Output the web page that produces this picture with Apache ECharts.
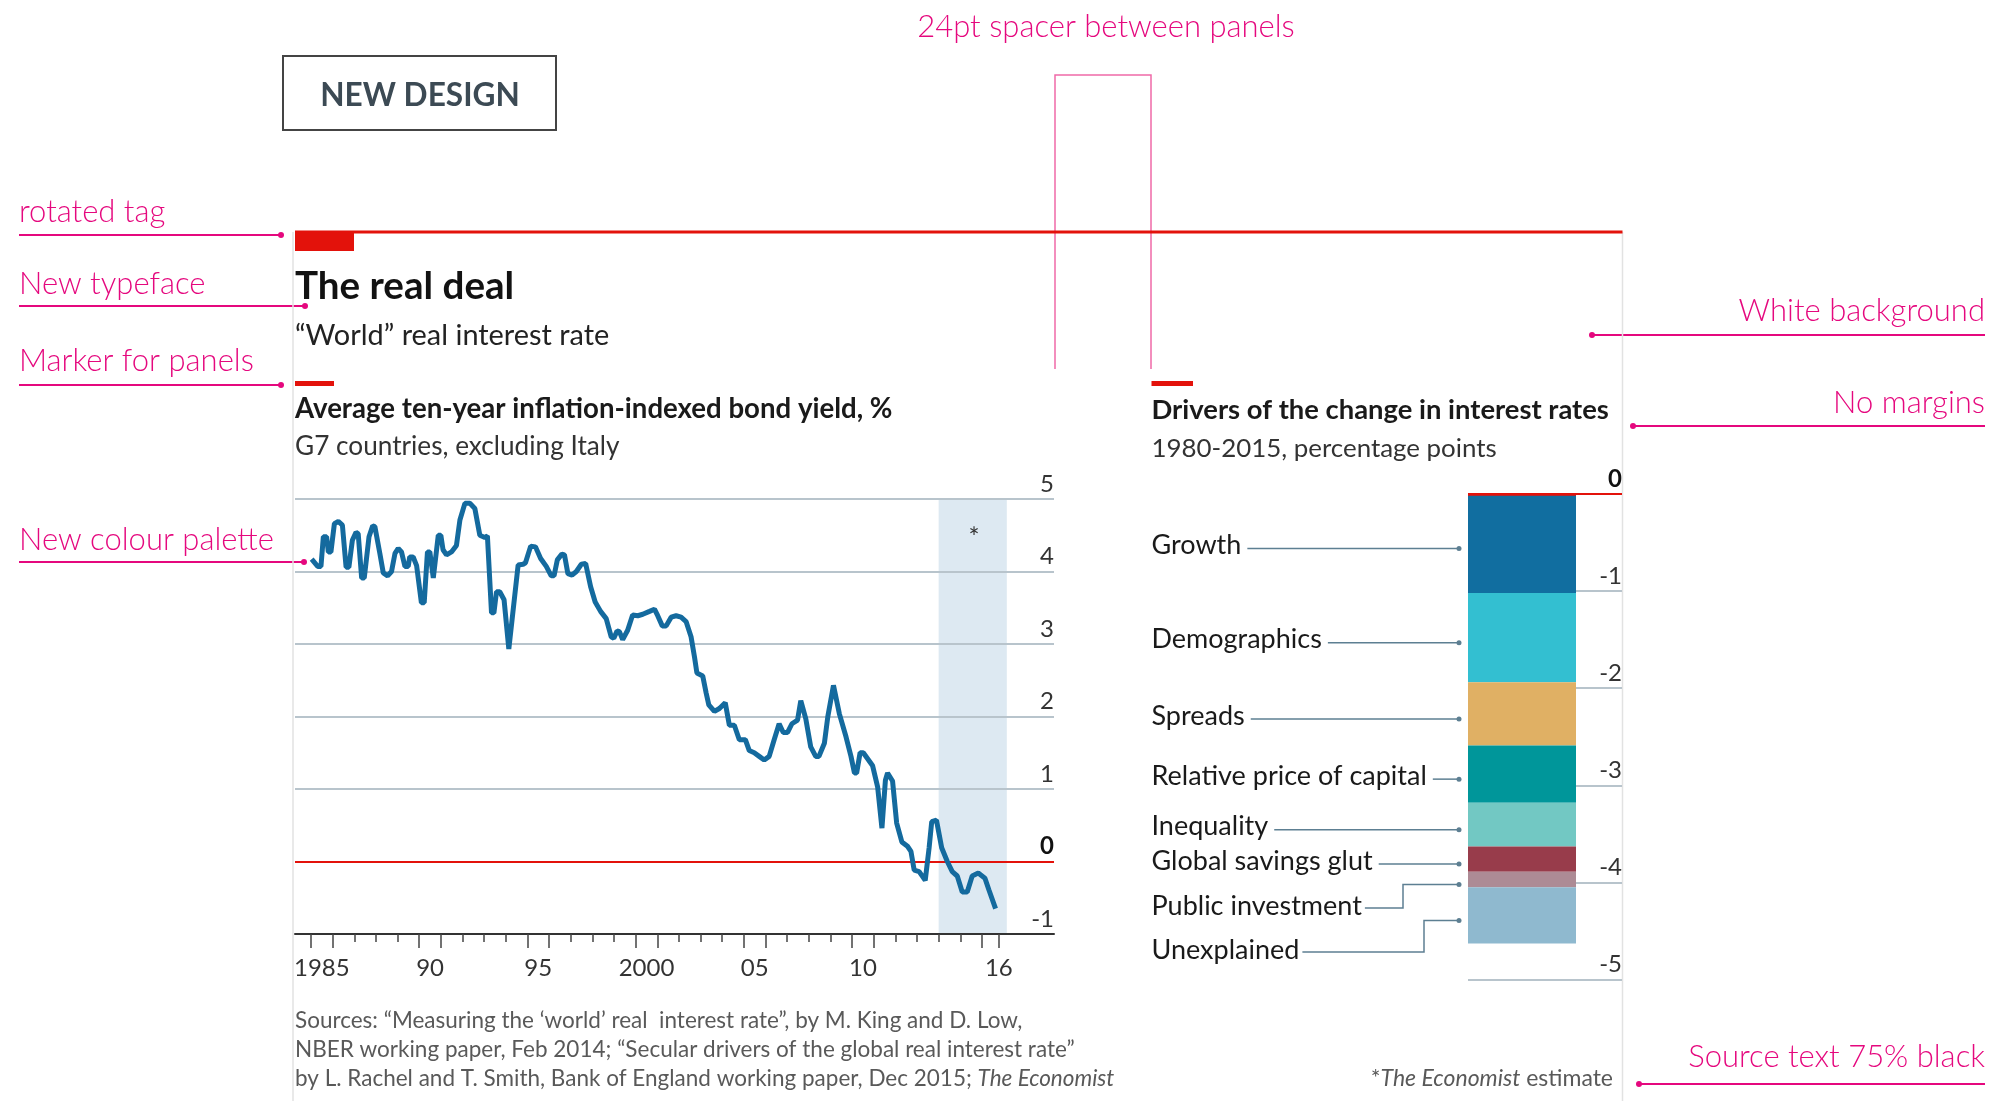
<!DOCTYPE html>
<html>
<head>
<meta charset="utf-8">
<title>The real deal</title>
<script src="https://cdn.jsdelivr.net/npm/echarts@6/dist/echarts.min.js"></script>
<style>
    html, body { margin: 0; padding: 0; background: #fff; }
    #chart { width: 1995px; height: 1101px; }
</style>
</head>
<body>
<div id="chart"></div>
<script>
// "World" real interest rate, % (decimal years)
const rateYears = [
    1985.03, 1985.31, 1985.46, 1985.57, 1985.72, 1985.80, 1985.92, 1986.08, 1986.26, 1986.45,
    1986.62, 1986.75, 1986.91, 1987.08, 1987.18, 1987.34, 1987.46, 1987.68, 1987.85, 1987.95,
    1988.18, 1988.34, 1988.54, 1988.72, 1988.88, 1989.03, 1989.18, 1989.34, 1989.49, 1989.56,
    1989.72, 1989.88, 1990.10, 1990.23, 1990.38, 1990.49, 1990.65, 1990.72, 1990.88, 1991.00,
    1991.10, 1991.26, 1991.49, 1991.72, 1991.88, 1992.11, 1992.34, 1992.57, 1992.80, 1993.03,
    1993.15, 1993.34, 1993.45, 1993.57, 1993.72, 1993.92, 1994.14, 1994.23, 1994.57, 1994.80,
    1994.91, 1995.15, 1995.37, 1995.61, 1995.87, 1996.10, 1996.23, 1996.38, 1996.59, 1996.71,
    1996.87, 1997.06, 1997.26, 1997.49, 1997.69, 1997.92, 1998.13, 1998.38, 1998.64, 1998.87,
    1998.99, 1999.14, 1999.25, 1999.40, 1999.63, 1999.86, 2000.10, 2000.33, 2000.64, 2000.87,
    2001.02, 2001.23, 2001.41, 2001.64, 2001.87, 2002.10, 2002.33, 2002.56, 2002.72, 2002.83,
    2003.10, 2003.26, 2003.38, 2003.64, 2003.87, 2004.14, 2004.33, 2004.56, 2004.79, 2005.07,
    2005.25, 2005.48, 2005.71, 2005.94, 2006.17, 2006.40, 2006.63, 2006.82, 2007.02, 2007.22,
    2007.48, 2007.63, 2007.86, 2008.09, 2008.32, 2008.47, 2008.72, 2008.88, 2009.14, 2009.41,
    2009.72, 2009.95, 2010.11, 2010.21, 2010.37, 2010.52, 2010.76, 2010.95, 2011.18, 2011.38,
    2011.54, 2011.64, 2011.87, 2012.06, 2012.30, 2012.56, 2012.72, 2012.87, 2013.10, 2013.38,
    2013.56, 2013.68, 2013.90, 2014.14, 2014.40, 2014.63, 2014.86, 2015.09, 2015.32, 2015.55,
    2015.83, 2016.14, 2016.32, 2016.63
]
const rateValues = [
    4.17, 4.07, 4.07, 4.48, 4.48, 4.27, 4.27, 4.66, 4.69, 4.64,
    4.06, 4.06, 4.43, 4.54, 4.52, 3.91, 3.91, 4.48, 4.63, 4.62,
    4.25, 3.98, 3.94, 4.00, 4.25, 4.32, 4.27, 4.07, 4.07, 4.20,
    4.20, 4.08, 3.57, 3.57, 4.27, 4.27, 3.91, 3.91, 4.50, 4.50,
    4.30, 4.23, 4.27, 4.36, 4.71, 4.94, 4.94, 4.87, 4.50, 4.47,
    4.49, 3.43, 3.43, 3.72, 3.72, 3.61, 2.93, 2.93, 4.09, 4.10,
    4.12, 4.35, 4.34, 4.18, 4.07, 3.94, 3.94, 4.16, 4.24, 4.23,
    3.97, 3.95, 4.00, 4.10, 4.11, 3.79, 3.58, 3.45, 3.35, 3.10,
    3.08, 3.18, 3.17, 3.06, 3.19, 3.40, 3.39, 3.41, 3.45, 3.48,
    3.39, 3.25, 3.25, 3.37, 3.39, 3.37, 3.31, 3.10, 2.82, 2.60,
    2.56, 2.32, 2.16, 2.07, 2.11, 2.19, 1.88, 1.88, 1.68, 1.68,
    1.53, 1.50, 1.45, 1.40, 1.45, 1.68, 1.90, 1.78, 1.78, 1.90,
    1.95, 2.22, 1.97, 1.58, 1.45, 1.45, 1.63, 2.00, 2.43, 2.04,
    1.72, 1.45, 1.22, 1.22, 1.50, 1.50, 1.40, 1.32, 1.03, 0.46,
    1.12, 1.22, 1.11, 0.53, 0.27, 0.21, 0.14, -0.12, -0.14, -0.26,
    0.19, 0.55, 0.57, 0.19, 0.00, -0.14, -0.20, -0.42, -0.42, -0.20,
    -0.16, -0.23, -0.39, -0.65
]
const estimatePeriod = [2014, 2017.15]
const yearRange = [1984.26, 2019.33]
const yearLabelAt = [1985.5, 1990.5, 1995.5, 2000.5, 2005.5, 2010.5, 2016.78]
const yearLabels = ['1985', '90', '95', '2000', '05', '10', '16']
const lastTick = 2016.8

// Drivers of the change in interest rates, 1980-2015, percentage points
const drivers = ['Growth', 'Demographics', 'Spreads', 'Relative price of capital',
    'Inequality', 'Global savings glut', 'Public investment', 'Unexplained']
const driverValues = [-1.02, -0.92, -0.65, -0.59, -0.45, -0.26, -0.16, -0.58]

const driverColors = ['#116ea0', '#33bfd1', '#e0b064', '#00969a', '#72c8c3', '#983c4b', '#ad8b95', '#8fb9cf']
const FONT = 'Lato, "Noto Sans", sans-serif'
const RED = '#e3120b'
const PINK = '#e5087e'
const GRID = '#b8c4cc'
const LINE_BLUE = '#146a9e'

let yearTicks = []
for (let y = 1985; y <= 2016; y++) yearTicks.push(y)
yearTicks.push(lastTick)
const longTicks = [1985, 1986, 1990, 1991, 1995, 1996, 2000, 2001, 2005, 2006, 2010, 2011, 2016, lastTick]

const chart = echarts.init(document.getElementById('chart'))

function text(str, x, y, size, extra) {
    return {
        type: 'text', x: x, y: y, silent: true,
        style: Object.assign({
            text: str, fontFamily: FONT, fontSize: size, fill: '#1a1a1a',
            align: 'left', verticalAlign: 'middle'
        }, extra || {})
    }
}
function hline(x1, x2, y, color, width) {
    return { type: 'line', silent: true, shape: { x1: x1, y1: y, x2: x2, y2: y }, style: { stroke: color, lineWidth: width } }
}
function dot(x, y, color, r) {
    return { type: 'circle', silent: true, shape: { cx: x, cy: y, r: r }, style: { fill: color } }
}
// pink annotation: text above a line that ends with a dot
function note(str, side, capMid, lineY, x1, x2) {
    const right = side === 'right'
    return [
        text(str, right ? 1985 : 19, capMid, 31, { fill: PINK, fontWeight: 300, align: right ? 'right' : 'left' }),
        hline(x1, x2, lineY, PINK, 2),
        dot(right ? x1 : x2, lineY, PINK, 3)
    ]
}

const tickLabelStyle = { fontFamily: FONT, fontSize: 24, color: '#333' }
const italic = { i: { fontStyle: 'italic', fontFamily: FONT, fontSize: 22.5, fill: '#595959' } }

const staticGraphics = [
    text('24pt spacer between panels', 1106, 26.5, 31, { fill: PINK, fontWeight: 300, align: 'center' }),
    { type: 'polyline', silent: true, shape: { points: [[1055, 369], [1055, 75], [1151, 75], [1151, 369]] }, style: { stroke: '#ef6aa8', lineWidth: 1.5, fill: null } },
    { type: 'rect', silent: true, shape: { x: 283, y: 56, width: 273, height: 74 }, style: { fill: null, stroke: '#444', lineWidth: 2 } },
    text('NEW DESIGN', 420, 96, 31.6, { fill: '#3c4a54', fontWeight: 'bold', align: 'center' }),
    ...note('rotated tag', 'left', 212, 235, 19, 281),
    ...note('New typeface', 'left', 284, 306, 19, 305),
    ...note('Marker for panels', 'left', 361, 385, 19, 281),
    ...note('New colour palette', 'left', 540, 562, 19, 304),
    ...note('White background', 'right', 311, 335, 1592, 1985),
    ...note('No margins', 'right', 403, 426, 1633, 1985),
    ...note('Source text 75% black', 'right', 1057, 1084, 1639, 1985),
    // frame
    { type: 'line', silent: true, shape: { x1: 293, y1: 232, x2: 293, y2: 1101 }, style: { stroke: '#e2e2e2', lineWidth: 1.5 } },
    { type: 'line', silent: true, shape: { x1: 1622.5, y1: 232, x2: 1622.5, y2: 1101 }, style: { stroke: '#e2e2e2', lineWidth: 1.5 } },
    hline(295, 1622.5, 232, RED, 3),
    { type: 'rect', silent: true, shape: { x: 295, y: 231, width: 59, height: 20 }, style: { fill: RED } },
    text('The real deal', 295, 287, 38.6, { fontWeight: 'bold', fill: '#121212' }),
    text('\u201cWorld\u201d real interest rate', 295, 336, 28.9, { fill: '#222' }),
    { type: 'rect', silent: true, shape: { x: 295, y: 381, width: 39, height: 5 }, style: { fill: RED } },
    { type: 'rect', silent: true, shape: { x: 1151.5, y: 381, width: 41.5, height: 5 }, style: { fill: RED } },
    text('Average ten-year inflation-indexed bond yield, %', 295, 409, 27.6, { fontWeight: 'bold', fill: '#1a1a1a' }),
    text('G7 countries, excluding Italy', 295, 447, 26.2, { fill: '#333' }),
    text('Drivers of the change in interest rates', 1151.5, 410, 27.4, { fontWeight: 'bold', fill: '#1a1a1a' }),
    text('1980-2015, percentage points', 1151.5, 449, 25.9, { fill: '#333' }),
    text('*', 974, 539, 26, { fill: '#333', align: 'center' }),
    text('Sources: \u201cMeasuring the \u2018world\u2019 real  interest rate\u201d, by M. King and D. Low,', 295, 1021, 22.5, { fill: '#595959' }),
    text('NBER working paper, Feb 2014; \u201cSecular drivers of the global real interest rate\u201d', 295, 1050, 22.5, { fill: '#595959' }),
    text('by L. Rachel and T. Smith, Bank of England working paper, Dec 2015; {i|The Economist}', 295, 1079, 22.5,
        { fill: '#595959', rich: italic }),
    text('*{i|The Economist} estimate', 1613, 1079, 23,
        { fill: '#595959', align: 'right', rich: { i: Object.assign({}, italic.i, { fontSize: 23 }) } })
]

function insideLabel() {
    return Object.assign({
        inside: true, margin: 0, verticalAlign: 'bottom', lineHeight: 26, padding: [0, 0, 2, 0],
        formatter: function (v) { return v === 0 ? '{b|0}' : String(v) },
        rich: { b: { fontFamily: FONT, fontSize: 24, fontWeight: 'bold', color: '#111', lineHeight: 26 } }
    }, tickLabelStyle)
}

const option = {
    animation: false,
    backgroundColor: '#fff',
    textStyle: { fontFamily: FONT },
    grid: [
        { left: 295, top: 499, width: 759, height: 435 },
        { left: 295, top: 499, width: 759, height: 435 },
        { left: 1468, top: 494, width: 108, height: 485.5 },
        { left: 1468, top: 494, width: 154, height: 485.5 }
    ],
    xAxis: [
        {
            gridIndex: 0, type: 'value', min: yearRange[0], max: yearRange[1],
            axisLine: { onZero: false, lineStyle: { color: '#333', width: 2 } },
            axisTick: { customValues: yearTicks, length: 8, lineStyle: { color: '#444', width: 1.5 } },
            axisLabel: Object.assign({
                customValues: yearLabelAt, margin: 22,
                formatter: function (v) { return yearLabels[yearLabelAt.indexOf(v)] }
            }, tickLabelStyle),
            splitLine: { show: false }
        },
        {
            gridIndex: 1, type: 'value', min: yearRange[0], max: yearRange[1],
            axisLine: { show: false, onZero: false },
            axisTick: { customValues: longTicks, length: 14, lineStyle: { color: '#444', width: 1.5 } },
            axisLabel: { show: false }, splitLine: { show: false }
        },
        { gridIndex: 2, type: 'category', data: ['1980-2015'], show: false },
        { gridIndex: 3, type: 'value', min: 0, max: 1, show: false }
    ],
    yAxis: [
        {
            gridIndex: 0, type: 'value', min: -1, max: 5, interval: 1, position: 'right',
            axisLine: { show: false }, axisTick: { show: false },
            axisLabel: insideLabel(),
            splitLine: { lineStyle: { color: ['transparent', RED, GRID, GRID, GRID, GRID, GRID], width: 2 } }
        },
        { gridIndex: 1, type: 'value', min: -1, max: 5, show: false },
        { gridIndex: 2, type: 'value', min: -5, max: 0, show: false },
        {
            gridIndex: 3, type: 'value', min: -5, max: 0, interval: 1, position: 'right',
            axisLine: { show: false }, axisTick: { show: false },
            axisLabel: insideLabel(),
            splitLine: { lineStyle: { color: [GRID, GRID, GRID, GRID, GRID, RED], width: 2 } }
        }
    ],
    series: [
        {
            type: 'line', xAxisIndex: 0, yAxisIndex: 0,
            data: rateYears.map(function (y, i) { return [y, rateValues[i]] }),
            symbol: 'none', z: 3,
            lineStyle: { color: LINE_BLUE, width: 5 },
            markArea: {
                silent: true, z: -1,
                itemStyle: { color: '#dde9f2' },
                data: [[{ xAxis: estimatePeriod[0] }, { xAxis: estimatePeriod[1] }]]
            }
        }
    ].concat(drivers.map(function (name, i) {
        const s = {
            type: 'bar', name: name, xAxisIndex: 2, yAxisIndex: 2, stack: 'drivers',
            barWidth: '100%', data: [driverValues[i]],
            itemStyle: { color: driverColors[i] }
        }
        if (i === 0) {
            s.markLine = {
                silent: true, symbol: 'none', label: { show: false },
                lineStyle: { color: RED, width: 2.5, type: 'solid' },
                data: [{ yAxis: 0 }]
            }
        }
        return s
    })),
    graphic: staticGraphics
}
chart.setOption(option)

// labels and leader lines for the drivers, pointing at the middle of each block
const LABEL_SIZE = 27
const measure = document.createElement('canvas').getContext('2d')
measure.font = LABEL_SIZE + 'px ' + FONT
const labelLeft = 1151.5
const barLeft = 1468
const elbows = { 'Public investment': [1403, 908], 'Unexplained': [1424, 952] }
let leaderGraphics = []
let acc = 0
drivers.forEach(function (name, i) {
    const mid = acc + driverValues[i] / 2
    acc += driverValues[i]
    const dotY = chart.convertToPixel({ xAxisIndex: 2, yAxisIndex: 2 }, [0, mid])[1] + 5
    const dotX = barLeft - 9
    const textEnd = labelLeft + measure.measureText(name).width
    const color = '#5d7f92'
    if (elbows[name]) {
        const ex = elbows[name][0], ly = elbows[name][1]
        leaderGraphics.push(text(name, labelLeft, ly - 2, LABEL_SIZE))
        leaderGraphics.push({
            type: 'polyline', silent: true,
            shape: { points: [[textEnd + 3, ly], [ex, ly], [ex, dotY], [dotX, dotY]] },
            style: { stroke: color, lineWidth: 1.5, fill: null }
        })
    } else {
        leaderGraphics.push(text(name, labelLeft, dotY - 3, LABEL_SIZE))
        leaderGraphics.push(hline(textEnd + 6, dotX, dotY, color, 1.5))
    }
    leaderGraphics.push(dot(dotX, dotY, color, 2.5))
})
chart.setOption({ graphic: staticGraphics.concat(leaderGraphics) })
</script>
</body>
</html>
